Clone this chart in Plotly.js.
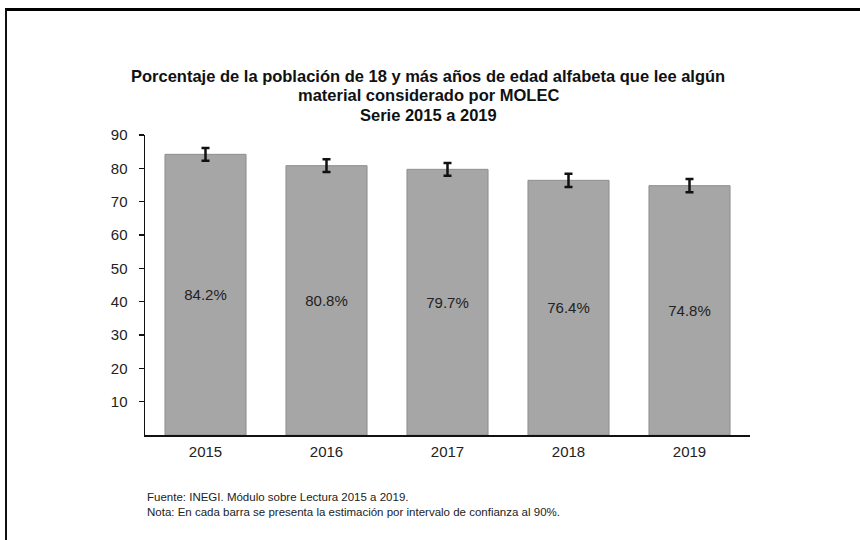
<!DOCTYPE html>
<html>
<head>
<meta charset="utf-8">
<script src="https://cdn.plot.ly/plotly-3.0.1.min.js"></script>
<style>
  html, body { margin: 0; padding: 0; background: #fff; }
  #wrap { position: relative; width: 860px; height: 540px; overflow: hidden; }
  #chart { position: absolute; left: 0; top: 0; width: 860px; height: 540px; }
  #frame { position: absolute; left: 5px; top: 8px; width: 900px; height: 600px;
           border-top: 3px solid #000; border-left: 2px solid #111; pointer-events: none; }
</style>
</head>
<body>
<div id="wrap">
  <div id="chart"></div>
  <div id="frame"></div>
</div>
<script>
const years = ["2015", "2016", "2017", "2018", "2019"];
const values = [84.2, 80.8, 79.7, 76.4, 74.8];
const errPlus = [1.9, 1.9, 1.9, 2.0, 2.0];
const errMinus = [1.9, 1.9, 1.9, 2.0, 2.0];
const labels = ["84.2%", "80.8%", "79.7%", "76.4%", "74.8%"];
const yTicks = [10, 20, 30, 40, 50, 60, 70, 80, 90];
const titleLines = [
  "Porcentaje de la población de 18 y más años de edad alfabeta que lee algún",
  "material considerado por MOLEC",
  "Serie 2015 a 2019"
];
const notes = [
  "Fuente: INEGI. Módulo sobre Lectura 2015 a 2019.",
  "Nota: En cada barra se presenta la estimación por intervalo de confianza al 90%."
];

const FONT = "Liberation Sans, Arial, sans-serif";

const trace = {
  type: "bar",
  x: years,
  y: values,
  text: labels,
  textposition: "inside",
  insidetextanchor: "middle",
  textangle: 0,
  insidetextfont: { family: FONT, size: 15, color: "#222" },
  marker: { color: "#a6a6a6", line: { color: "#8e8e8e", width: 1 } },
  error_y: {
    type: "data", symmetric: false,
    array: errPlus, arrayminus: errMinus,
    color: "#111", thickness: 2.5, width: 4
  },
  hoverinfo: "none"
};

const titleY = [1.197, 1.132, 1.067];
const noteY = [-0.207, -0.257];

const annotations = [];
titleLines.forEach((t, i) => annotations.push({
  xref: "paper", yref: "paper", x: 0.468, y: titleY[i],
  xanchor: "center", yanchor: "middle", showarrow: false,
  text: "<b>" + t + "</b>",
  font: { family: FONT, size: 16.5, color: "#111" }
}));
notes.forEach((t, i) => annotations.push({
  xref: "paper", yref: "paper", x: 0, y: noteY[i],
  xanchor: "left", yanchor: "middle", showarrow: false, align: "left",
  text: t,
  font: { family: FONT, size: 11.5, color: "#222" }
}));

const layout = {
  width: 860, height: 540,
  margin: { l: 145, r: 110, t: 135, b: 105 },
  paper_bgcolor: "#fff", plot_bgcolor: "#fff",
  font: { family: FONT, size: 15, color: "#222" },
  showlegend: false,
  bargap: 0.33,
  xaxis: {
    type: "category",
    showline: true, linecolor: "#111", linewidth: 1.5,
    ticks: "", showgrid: false, zeroline: false,
    ticklabelstandoff: 2,
    tickfont: { family: FONT, size: 15, color: "#222" }
  },
  yaxis: {
    range: [0, 90],
    tickvals: yTicks, ticktext: yTicks.map(String),
    showline: true, linecolor: "#111", linewidth: 1.5,
    ticks: "outside", ticklen: 5, tickcolor: "#111", tickwidth: 1.5,
    ticklabelstandoff: 8,
    showgrid: false, zeroline: false,
    tickfont: { family: FONT, size: 15, color: "#222" }
  },
  annotations: annotations
};

Plotly.newPlot("chart", [trace], layout, { displayModeBar: false, staticPlot: true });
</script>
</body>
</html>
